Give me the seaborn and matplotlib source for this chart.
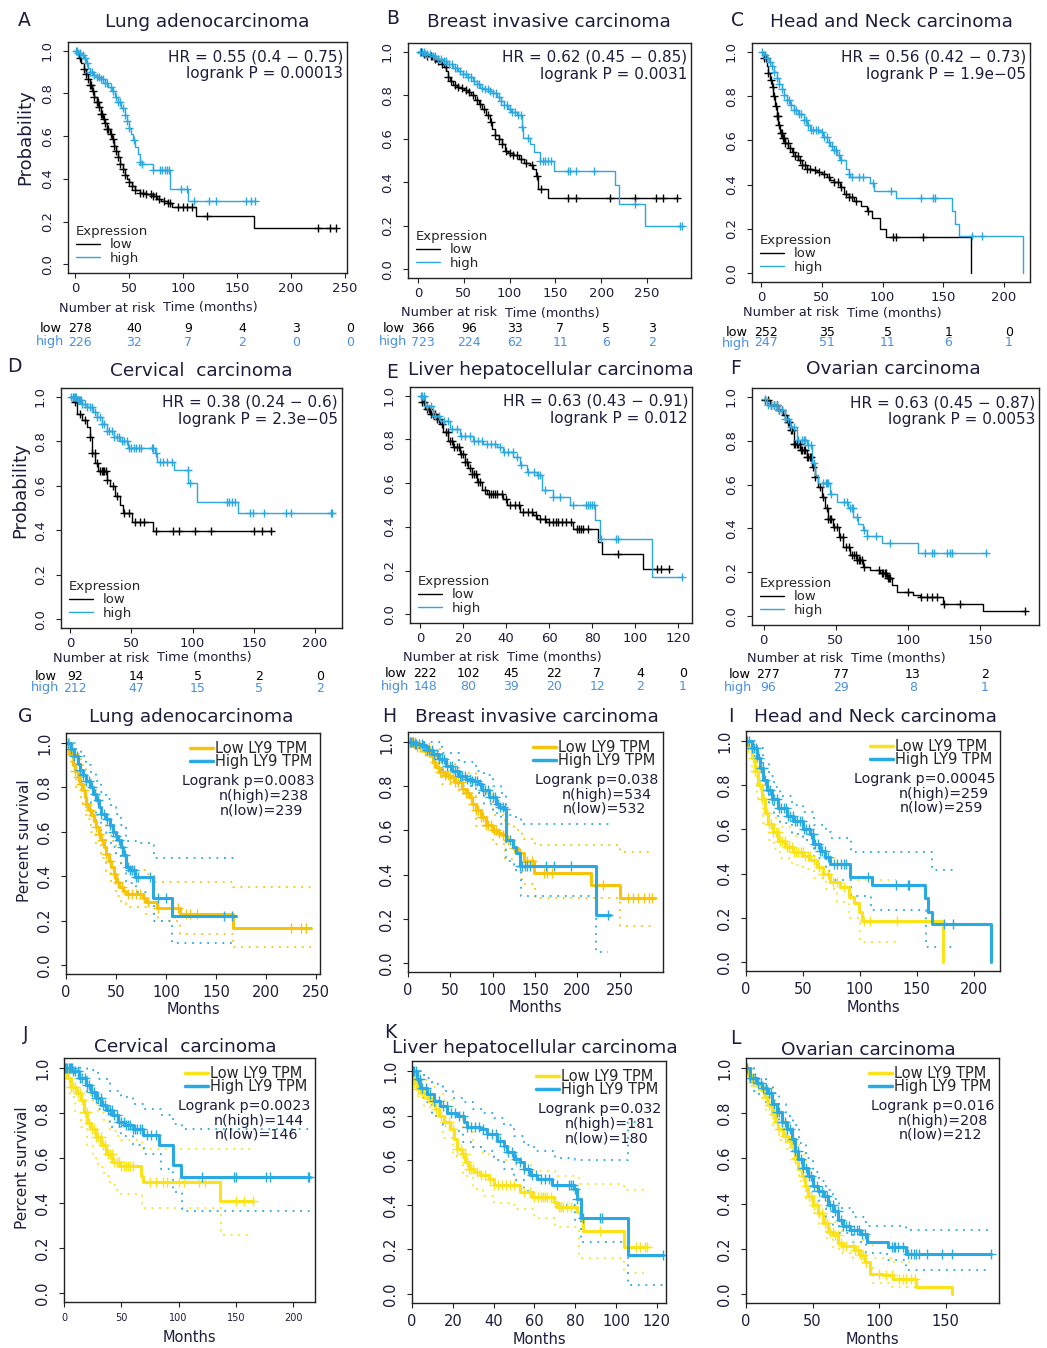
import numpy as np
import pandas as pd
import matplotlib
matplotlib.use("Agg")
import matplotlib.pyplot as plt
import seaborn as sns
from matplotlib.lines import Line2D

# ---------------- KM plotter panels A-F: (months, survival) step points ----------------
A_LOW = [(0, 1.0), (2, 0.985), (4, 0.965), (6, 0.94), (8, 0.915), (10, 0.89), (12, 0.865), (14, 0.84),
         (16, 0.81), (18, 0.785), (20, 0.76), (22, 0.735), (24, 0.705), (26, 0.68), (28, 0.66), (30, 0.635),
         (32, 0.61), (34, 0.585), (36, 0.555), (38, 0.53), (40, 0.5), (42, 0.47), (44, 0.445), (46, 0.42),
         (48, 0.4), (50, 0.385), (53, 0.365), (56, 0.35), (60, 0.335), (66, 0.33), (72, 0.322), (76, 0.305),
         (80, 0.295), (86, 0.285), (90, 0.268), (112, 0.228), (165.6, 0.171), (242, 0.171)]
A_HIGH = [(0, 1.0), (3, 0.99), (6, 0.98), (8, 0.965), (10, 0.94), (12, 0.92), (14, 0.9), (17, 0.885),
          (20, 0.875), (24, 0.865), (28, 0.85), (31, 0.83), (34, 0.81), (37, 0.785), (40, 0.76), (43, 0.73),
          (46, 0.7), (48, 0.67), (50, 0.64), (52, 0.61), (54, 0.58), (56, 0.55), (58, 0.515), (60, 0.48),
          (62, 0.47), (72, 0.44), (88, 0.352), (105, 0.297), (167, 0.297)]
A_LOW_CENS = [5, 8, 10, 12, 14, 15, 17, 18, 20, 21, 22, 24, 25, 27, 28, 30, 31, 33, 35, 36, 38, 40, 42, 44,
              46, 50, 53, 56, 60, 63, 66, 70, 72, 75, 78, 82, 86, 88, 95, 100, 104, 108, 122, 225, 236, 242]
A_HIGH_CENS = [1, 2, 3, 5, 7, 9, 11, 14, 16, 18, 20, 22, 24, 26, 28, 30, 33, 35, 38, 40, 42, 44, 46, 48, 50,
               55, 60, 62, 72, 79, 81, 83, 85, 87, 98, 104, 110, 124, 131, 158, 163, 167]
A_TICKS = [0, 50, 100, 150, 200, 250]
A_RISK_LOW = [278, 40, 9, 4, 3, 0]
A_RISK_HIGH = [226, 32, 7, 2, 0, 0]
A_STATS = "HR = 0.55 (0.4 \u2212 0.75)\nlogrank P = 0.00013"

B_LOW = [(0, 1.0), (5, 0.99), (10, 0.978), (15, 0.968), (20, 0.958), (25, 0.945), (28, 0.93), (31, 0.91),
         (33, 0.885), (35, 0.865), (38, 0.845), (42, 0.838), (46, 0.832), (50, 0.826), (54, 0.815), (58, 0.8),
         (62, 0.78), (66, 0.76), (70, 0.735), (74, 0.71), (78, 0.675), (81, 0.645), (84, 0.615), (88, 0.6),
         (92, 0.575), (95, 0.545), (98, 0.535), (104, 0.525), (110, 0.508), (116, 0.49), (122, 0.478),
         (126, 0.46), (129, 0.43), (131, 0.37), (142, 0.328), (283, 0.328)]
B_HIGH = [(0, 1.0), (8, 0.99), (16, 0.98), (22, 0.968), (27, 0.957), (32, 0.945), (38, 0.927), (44, 0.91),
          (49, 0.896), (54, 0.882), (60, 0.866), (64, 0.85), (68, 0.835), (72, 0.828), (78, 0.82), (82, 0.808),
          (86, 0.79), (90, 0.775), (94, 0.757), (98, 0.738), (102, 0.725), (108, 0.71), (113, 0.652),
          (115, 0.604), (122, 0.576), (127, 0.54), (133, 0.5), (148, 0.454), (215, 0.386), (219, 0.302),
          (248, 0.198), (288, 0.198)]
B_LOW_CENS = [3, 6, 10, 14, 18, 22, 26, 30, 33, 36, 40, 44, 48, 52, 56, 60, 64, 68, 72, 76, 80, 84, 88, 92,
              96, 100, 104, 108, 112, 118, 124, 130, 134, 164, 172, 210, 237, 260, 267, 283]
B_HIGH_CENS = [2, 4, 6, 8, 10, 13, 16, 19, 22, 25, 28, 31, 34, 37, 40, 43, 46, 49, 52, 55, 58, 61, 64, 67,
               70, 73, 76, 79, 82, 85, 88, 91, 94, 97, 100, 103, 106, 109, 112, 114, 120, 133, 136, 139, 142,
               145, 164, 166, 172, 192, 237, 286, 288]
B_TICKS = [0, 50, 100, 150, 200, 250]
B_RISK_LOW = [366, 96, 33, 7, 5, 3]
B_RISK_HIGH = [723, 224, 62, 11, 6, 2]
B_STATS = "HR = 0.62 (0.45 \u2212 0.85)\nlogrank P = 0.0031"

C_LOW = [(0, 1.0), (2, 0.974), (4.7, 0.936), (6, 0.905), (7.4, 0.875), (9, 0.84), (10.2, 0.8), (11.5, 0.755),
         (12.9, 0.708), (14.3, 0.67), (15.7, 0.632), (17.5, 0.61), (19.8, 0.586), (22.5, 0.565), (25.3, 0.548),
         (28, 0.53), (30.8, 0.51), (34, 0.49), (37.7, 0.472), (42, 0.465), (46, 0.457), (50, 0.447),
         (54.2, 0.434), (57, 0.423), (59.7, 0.411), (65.2, 0.388), (68, 0.358), (72, 0.342), (76.2, 0.327),
         (82, 0.305), (87.2, 0.282), (91.3, 0.251), (98.2, 0.198), (103, 0.164), (173, 0.0)]
C_HIGH = [(0, 1.0), (2.5, 0.985), (4.7, 0.974), (6.8, 0.955), (8.8, 0.936), (11, 0.91), (12.9, 0.883),
          (15, 0.855), (17, 0.83), (19, 0.806), (21, 0.784), (24, 0.76), (26.7, 0.738), (30, 0.72), (35, 0.692),
          (38, 0.67), (40.4, 0.647), (48.7, 0.64), (51, 0.617), (54.2, 0.594), (57, 0.575), (59.7, 0.556),
          (62.5, 0.533), (65.2, 0.51), (70, 0.47), (72, 0.449), (73.5, 0.434), (90, 0.406), (92.7, 0.373),
          (111.4, 0.339), (157.4, 0.282), (160, 0.224), (163.4, 0.167), (216, 0.0)]
C_LOW_CENS = [2, 4, 6, 8, 10, 11, 12, 13, 14, 15, 16, 17, 18, 19, 20, 22, 24, 26, 28, 30, 32, 34, 36, 38, 40,
              44, 48, 52, 56, 60, 63, 66, 70, 72, 75, 78, 88, 109, 111, 133]
C_HIGH_CENS = [1, 3, 5, 7, 9, 11, 13, 15, 17, 19, 21, 23, 25, 27, 29, 31, 33, 35, 37, 39, 41, 43, 45, 47, 50,
               52, 54, 56, 58, 60, 62, 64, 66, 72, 75, 81, 84, 92, 107, 132, 142, 143, 174, 182]
C_TICKS = [0, 50, 100, 150, 200]
C_RISK_LOW = [252, 35, 5, 1, 0]
C_RISK_HIGH = [247, 51, 11, 6, 1]
C_STATS = "HR = 0.56 (0.42 \u2212 0.73)\nlogrank P = 1.9e\u221205"

D_LOW = [(0, 1.0), (2.7, 0.977), (5.4, 0.924), (9.5, 0.894), (13.6, 0.863), (15.8, 0.818), (17.7, 0.749),
         (20.4, 0.704), (23, 0.666), (30, 0.628), (32.7, 0.597), (36.7, 0.552), (40.8, 0.514), (43.5, 0.476),
         (50.3, 0.438), (68, 0.397), (164.6, 0.397)]
D_HIGH = [(0, 1.0), (5.4, 0.985), (10, 0.97), (13.6, 0.954), (19, 0.932), (21.8, 0.909), (25.9, 0.878),
          (30, 0.848), (35.4, 0.818), (40.8, 0.802), (47.6, 0.772), (69.4, 0.749), (70.7, 0.708),
          (84.4, 0.673), (96.6, 0.612), (103.4, 0.529), (137.4, 0.479), (214.4, 0.479)]
D_LOW_CENS = [4, 8, 12, 16, 18, 20, 22, 24, 26, 27, 28, 29, 30, 35, 38, 44, 48, 53, 57, 60, 70, 84, 89, 102,
              115, 150, 157, 164]
D_HIGH_CENS = [1, 2, 3, 4, 5, 6, 7, 8, 9, 10, 12, 14, 16, 18, 20, 22, 24, 26, 28, 30, 32, 34, 36, 38, 40, 42,
               44, 46, 48, 50, 52, 54, 56, 58, 67, 68, 70, 73, 76, 79, 83, 96, 98, 128, 130, 132, 135, 147,
               149, 158, 176, 180, 213, 214]
D_TICKS = [0, 50, 100, 150, 200]
D_RISK_LOW = [92, 14, 5, 2, 0]
D_RISK_HIGH = [212, 47, 15, 5, 2]
D_STATS = "HR = 0.38 (0.24 \u2212 0.6)\nlogrank P = 2.3e\u221205"

E_LOW = [(0, 1.0), (0.8, 0.97), (2.3, 0.939), (4.6, 0.916), (7.7, 0.894), (9.3, 0.871), (10.8, 0.833),
         (13.2, 0.795), (15.5, 0.764), (18.6, 0.734), (20.9, 0.696), (22.5, 0.67), (24, 0.643), (26.3, 0.605),
         (28.6, 0.567), (31, 0.552), (38.7, 0.529), (40.3, 0.498), (46.5, 0.468), (52.6, 0.453),
         (54.2, 0.438), (58.8, 0.422), (71.2, 0.392), (82.8, 0.331), (84.4, 0.274), (103.7, 0.205),
         (116, 0.205)]
E_HIGH = [(0, 1.0), (2.3, 0.954), (6.2, 0.909), (9.3, 0.886), (13.9, 0.848), (18.6, 0.818), (24.8, 0.795),
          (29.4, 0.78), (35.6, 0.764), (38.7, 0.742), (43.4, 0.719), (46.5, 0.681), (49.6, 0.65), (54.2, 0.635),
          (56.5, 0.567), (61.9, 0.537), (69.7, 0.498), (81.3, 0.43), (83.6, 0.343), (108, 0.172),
          (122.3, 0.172)]
E_LOW_CENS = [1, 2, 3, 4, 5, 6, 7, 8, 9, 10, 12, 13, 14, 15, 16, 17, 18, 19, 20, 21, 22, 23, 24, 25, 26, 27,
              28, 30, 32, 33, 34, 35, 36, 38, 40, 42, 44, 46, 48, 50, 52, 54, 56, 58, 60, 62, 63, 64, 66, 68,
              70, 73, 74, 75, 76, 78, 92, 110, 112, 116]
E_HIGH_CENS = [0.5, 1, 2, 3, 5, 7, 9, 11, 13, 15, 17, 19, 21, 23, 25, 27, 29, 31, 33, 35, 37, 39, 41, 43, 45,
               47, 50, 53, 55, 56, 58, 62, 65, 71, 77, 78, 79, 80, 81, 84, 91, 92, 122]
E_TICKS = [0, 20, 40, 60, 80, 100, 120]
E_RISK_LOW = [222, 102, 45, 22, 7, 4, 0]
E_RISK_HIGH = [148, 80, 39, 20, 12, 2, 1]
E_STATS = "HR = 0.63 (0.43 \u2212 0.91)\nlogrank P = 0.012"

F_LOW = [(0, 0.985), (4.6, 0.962), (9.2, 0.939), (13.8, 0.916), (16.2, 0.886), (18.5, 0.848), (20.8, 0.787),
         (25.4, 0.757), (30, 0.726), (33.5, 0.681), (35.8, 0.635), (38, 0.59), (40.4, 0.544), (42.7, 0.491),
         (45, 0.445), (48.5, 0.407), (52, 0.362), (55.4, 0.316), (60, 0.278), (64.6, 0.255), (69.2, 0.225),
         (73.8, 0.21), (80.8, 0.195), (85.4, 0.172), (88.8, 0.141), (92.3, 0.111), (103.8, 0.096),
         (108.5, 0.088), (124.6, 0.055), (152.3, 0.024), (181, 0.024)]
F_HIGH = [(0, 0.99), (2.3, 0.962), (9.2, 0.939), (15, 0.9), (18.5, 0.863), (23, 0.802), (30, 0.78),
          (33.5, 0.696), (35.8, 0.643), (38, 0.605), (46.2, 0.559), (50.8, 0.521), (58.8, 0.491),
          (62.3, 0.453), (65.8, 0.422), (69.2, 0.392), (71.5, 0.365), (82, 0.334), (107.3, 0.289),
          (154.6, 0.289)]
F_LOW_CENS = [1, 3, 5, 7, 9, 11, 13, 15, 17, 18, 19, 20, 21, 22, 23, 24, 25, 26, 27, 28, 29, 30, 31, 32, 33,
              34, 36, 39, 41, 44, 45, 46, 47, 49, 51, 53, 55, 57, 59, 61, 63, 64, 65, 66, 67, 68, 70, 80, 82,
              83, 84, 85, 86, 87, 88, 100, 109, 113, 117, 120, 125, 136, 181]
F_HIGH_CENS = [1, 3, 5, 7, 9, 11, 13, 15, 17, 19, 21, 24, 27, 28, 29, 31, 33, 35, 41, 43, 44, 45, 47, 56, 58,
               60, 61, 62, 65, 70, 72, 78, 88, 112, 117, 118, 127, 129, 131, 154]
F_TICKS = [0, 50, 100, 150]
F_RISK_LOW = [277, 77, 13, 2]
F_RISK_HIGH = [96, 29, 8, 1]
F_STATS = "HR = 0.63 (0.45 \u2212 0.87)\nlogrank P = 0.0053"

# ---------------- GEPIA panels G-L ----------------
G_LOW = [(0, 1.0), (3.4, 0.952), (6.7, 0.9), (9, 0.875), (11.7, 0.847), (14, 0.815), (16.8, 0.787),
         (18.5, 0.755), (20, 0.727), (22.5, 0.7), (25, 0.675), (27.5, 0.65), (30, 0.622), (32.5, 0.59),
         (35, 0.562), (37.5, 0.53), (40, 0.502), (42.5, 0.47), (45, 0.442), (47.5, 0.41), (50, 0.375),
         (53, 0.35), (57, 0.334), (60, 0.322), (77, 0.3), (80, 0.285), (90.6, 0.255), (114, 0.232),
         (166.8, 0.168), (245, 0.168)]
G_HIGH = [(0, 1.0), (5, 0.975), (8, 0.94), (11.7, 0.907), (14, 0.88), (16.8, 0.855), (20, 0.83),
          (23.5, 0.802), (27, 0.77), (30, 0.742), (32.5, 0.71), (35, 0.682), (40, 0.66), (43.5, 0.63), (47, 0.6),
          (50, 0.58), (52, 0.562), (55, 0.53), (57, 0.495), (60, 0.442), (64, 0.427), (68.8, 0.397), (87, 0.3),
          (105.7, 0.22), (169.5, 0.22)]
G_LOW_UP = [(0, 1.0), (5, 0.99), (10, 0.95), (15, 0.9), (20, 0.85), (25, 0.79), (30, 0.73), (35, 0.68),
            (40, 0.62), (45, 0.56), (50, 0.5), (55, 0.46), (60, 0.43), (80, 0.41), (88, 0.375), (167, 0.35),
            (245, 0.35)]
G_LOW_LO = [(0, 1.0), (5, 0.9), (10, 0.8), (15, 0.73), (20, 0.66), (25, 0.6), (30, 0.54), (35, 0.48),
            (40, 0.42), (45, 0.37), (50, 0.31), (55, 0.28), (60, 0.26), (80, 0.23), (92, 0.2), (114, 0.14),
            (167, 0.08), (245, 0.08)]
G_HIGH_UP = [(0, 1.0), (10, 0.97), (15, 0.94), (20, 0.9), (25, 0.87), (30, 0.83), (35, 0.78), (40, 0.75),
             (45, 0.71), (50, 0.68), (55, 0.63), (60, 0.56), (70, 0.55), (88, 0.48), (170, 0.48)]
G_HIGH_LO = [(0, 1.0), (5, 0.93), (10, 0.86), (15, 0.8), (20, 0.75), (25, 0.7), (30, 0.65), (35, 0.6),
             (40, 0.56), (45, 0.53), (50, 0.49), (55, 0.45), (60, 0.37), (70, 0.33), (88, 0.2), (106, 0.1),
             (170, 0.1)]
G_LOW_CENS = [3, 6, 9, 12, 15, 18, 21, 24, 27, 30, 33, 36, 40, 44, 48, 52, 56, 62, 66, 70, 74, 78, 82, 92,
              112, 120, 124, 131, 225, 235, 240]
G_HIGH_CENS = [2, 5, 8, 11, 14, 17, 20, 23, 26, 29, 32, 35, 38, 41, 44, 47, 50, 53, 56, 59, 62, 64, 66, 68,
               70, 72, 84, 92, 100, 158, 166]
G_TICKS = [0, 50, 100, 150, 200, 250]
G_STATS = ["Logrank p=0.0083", "n(high)=238", "n(low)=239"]

H_LOW = [(0, 1.0), (8.7, 0.975), (18.6, 0.96), (26.5, 0.937), (30, 0.91), (32.4, 0.885), (36.4, 0.863),
         (42, 0.852), (48.3, 0.84), (56, 0.818), (64, 0.788), (68, 0.77), (72, 0.751), (76, 0.72), (80, 0.691),
         (85.8, 0.661), (91.8, 0.624), (99.7, 0.6), (106, 0.59), (111.5, 0.579), (115.5, 0.555),
         (123.4, 0.519), (129.3, 0.497), (137.3, 0.46), (149, 0.407), (216.4, 0.352), (250, 0.293),
         (291.5, 0.293)]
H_HIGH = [(0, 1.0), (8, 0.99), (16.6, 0.982), (22, 0.965), (28.5, 0.945), (36.4, 0.922), (44.3, 0.893),
          (52.2, 0.87), (60, 0.848), (68, 0.833), (76, 0.822), (83.9, 0.81), (87.8, 0.781), (95.7, 0.751),
          (103.6, 0.721), (108, 0.705), (113.5, 0.699), (115.5, 0.557), (123.4, 0.527), (127.4, 0.497),
          (132, 0.437), (222.3, 0.216), (238, 0.216)]
H_LOW_UP = [(0, 1.0), (20, 0.99), (30, 0.97), (40, 0.9), (60, 0.86), (80, 0.77), (100, 0.67), (115, 0.63),
            (125, 0.6), (135, 0.56), (150, 0.534), (250, 0.504), (290, 0.504)]
H_LOW_LO = [(0, 1.0), (20, 0.94), (30, 0.89), (40, 0.81), (60, 0.77), (80, 0.62), (100, 0.54), (115, 0.47),
            (125, 0.42), (135, 0.36), (150, 0.296), (216, 0.296), (250, 0.169), (290, 0.169)]
H_HIGH_UP = [(0, 1.0), (40, 0.95), (60, 0.91), (80, 0.87), (90, 0.85), (100, 0.8), (110, 0.77), (116, 0.67),
             (125, 0.66), (133, 0.631), (240, 0.631)]
H_HIGH_LO = [(0, 1.0), (20, 0.96), (40, 0.86), (60, 0.8), (80, 0.77), (90, 0.72), (100, 0.68), (110, 0.63),
             (116, 0.46), (125, 0.42), (133, 0.303), (222, 0.05), (236, 0.05)]
H_LOW_CENS = [2, 5, 8, 11, 14, 17, 20, 23, 26, 29, 32, 35, 38, 41, 44, 47, 50, 53, 56, 59, 62, 65, 68, 71, 74,
              77, 80, 83, 86, 89, 92, 95, 98, 101, 104, 108, 112, 118, 125, 132, 140, 146, 160, 164, 170, 230,
              260, 266, 272, 279, 285, 288]
H_HIGH_CENS = [2, 4, 6, 8, 10, 13, 16, 19, 22, 25, 28, 31, 34, 37, 40, 43, 46, 49, 52, 55, 58, 61, 64, 67,
               70, 73, 76, 79, 82, 85, 88, 91, 94, 97, 100, 103, 106, 109, 112, 115, 120, 132, 135, 138, 141,
               144, 163, 172, 192, 236]
H_TICKS = [0, 50, 100, 150, 200, 250]
H_STATS = ["Logrank p=0.038", "n(high)=534", "n(low)=532"]

I_LOW = [(0, 1.0), (2, 0.967), (5, 0.922), (8, 0.863), (10.9, 0.803), (13.8, 0.736), (16.7, 0.676),
         (19.6, 0.624), (24, 0.587), (28.4, 0.549), (34.3, 0.519), (41.6, 0.497), (50.4, 0.482), (56.3, 0.46),
         (62.2, 0.43), (68, 0.4), (73.9, 0.363), (82.7, 0.34), (90, 0.296), (94.4, 0.266), (98.8, 0.228),
         (101.8, 0.184), (173, 0.0)]
I_HIGH = [(0, 1.0), (5, 0.967), (9.4, 0.922), (12.3, 0.878), (15.2, 0.825), (18.2, 0.78), (22.6, 0.736),
          (28.4, 0.699), (35.8, 0.661), (41.6, 0.639), (50.4, 0.601), (56.3, 0.579), (59.2, 0.534), (65, 0.504),
          (69.5, 0.475), (73.9, 0.445), (91.5, 0.385), (110.6, 0.348), (157.5, 0.288), (159.5, 0.228),
          (163.3, 0.173), (214.7, 0.0)]
I_LOW_UP = [(0, 1.0), (5, 0.97), (10, 0.88), (15, 0.79), (20, 0.71), (25, 0.65), (30, 0.61), (40, 0.57),
            (50, 0.55), (60, 0.51), (70, 0.47), (80, 0.44), (92, 0.37), (132, 0.37)]
I_LOW_LO = [(0, 1.0), (5, 0.86), (10, 0.74), (15, 0.63), (20, 0.55), (25, 0.51), (30, 0.47), (40, 0.44),
            (50, 0.42), (60, 0.38), (70, 0.33), (80, 0.27), (90, 0.2), (100, 0.09), (132, 0.09)]
I_HIGH_UP = [(0, 1.0), (10, 0.97), (15, 0.9), (20, 0.84), (25, 0.79), (30, 0.75), (40, 0.71), (50, 0.68),
             (60, 0.62), (70, 0.59), (75, 0.56), (92, 0.5), (157, 0.5), (163, 0.415), (183, 0.415)]
I_HIGH_LO = [(0, 1.0), (5, 0.93), (10, 0.86), (15, 0.76), (20, 0.71), (25, 0.66), (30, 0.63), (40, 0.58),
             (50, 0.55), (60, 0.47), (70, 0.41), (75, 0.37), (92, 0.3), (110, 0.236), (158, 0.07), (183, 0.07)]
I_LOW_CENS = [2, 4, 6, 8, 10, 12, 14, 16, 18, 20, 22, 24, 26, 28, 30, 32, 34, 36, 38, 40, 42, 44, 46, 48, 50,
              52, 54, 56, 60, 64, 68, 72, 76, 80, 86, 104, 109, 133]
I_HIGH_CENS = [1, 3, 5, 7, 9, 11, 13, 15, 17, 19, 21, 23, 25, 27, 29, 31, 33, 35, 37, 39, 41, 43, 45, 47, 49,
               51, 53, 55, 57, 59, 61, 63, 65, 67, 69, 72, 77, 80, 83, 86, 88, 107, 132, 142, 143, 174, 182]
I_TICKS = [0, 50, 100, 150, 200]
I_STATS = ["Logrank p=0.00045", "n(high)=259", "n(low)=259"]

J_LOW = [(0, 1.0), (2.9, 0.955), (5.8, 0.918), (10.2, 0.888), (14.6, 0.858), (17.5, 0.806), (20.4, 0.754),
         (23.4, 0.731), (27.7, 0.694), (32.1, 0.657), (36.5, 0.619), (42.3, 0.582), (48.2, 0.564),
         (67.2, 0.522), (68.6, 0.493), (135.8, 0.41), (165, 0.41)]
J_HIGH = [(0, 1.0), (7.3, 0.985), (13, 0.955), (19, 0.925), (23.4, 0.896), (27.7, 0.866), (32.1, 0.836),
          (36.5, 0.813), (42.3, 0.791), (46.7, 0.761), (52.6, 0.746), (59.9, 0.731), (68.6, 0.701),
          (83.2, 0.657), (94.9, 0.567), (102.2, 0.515), (214.6, 0.515)]
J_LOW_UP = [(0, 1.0), (10, 0.97), (15, 0.93), (20, 0.88), (25, 0.84), (30, 0.8), (35, 0.76), (40, 0.72),
            (45, 0.7), (50, 0.68), (68, 0.64), (165, 0.64)]
J_LOW_LO = [(0, 1.0), (5, 0.87), (10, 0.8), (15, 0.74), (20, 0.66), (25, 0.6), (30, 0.56), (35, 0.52),
            (40, 0.48), (45, 0.46), (50, 0.44), (68, 0.38), (137, 0.26), (165, 0.26)]
J_HIGH_UP = [(0, 1.0), (20, 0.99), (30, 0.95), (40, 0.9), (50, 0.87), (60, 0.84), (70, 0.82), (85, 0.79),
             (95, 0.75), (103, 0.73), (215, 0.73)]
J_HIGH_LO = [(0, 1.0), (10, 0.96), (20, 0.89), (30, 0.82), (40, 0.74), (50, 0.7), (60, 0.66), (70, 0.62),
             (85, 0.55), (95, 0.45), (103, 0.366), (215, 0.366)]
J_LOW_CENS = [2, 4, 6, 8, 10, 12, 14, 16, 18, 20, 22, 24, 26, 28, 30, 32, 34, 36, 38, 40, 42, 44, 46, 48, 50,
              52, 54, 56, 58, 60, 75, 80, 86, 90, 100, 105, 118, 123, 150, 157, 165]
J_HIGH_CENS = [1, 2, 3, 4, 5, 6, 7, 8, 10, 12, 14, 16, 18, 20, 22, 24, 26, 28, 30, 32, 34, 36, 38, 40, 42, 44,
               46, 48, 50, 52, 54, 56, 58, 60, 62, 64, 66, 68, 72, 76, 80, 120, 148, 150, 176, 180, 213, 214]
J_TICKS = [0, 50, 100, 150, 200]
J_STATS = ["Logrank p=0.0023", "n(high)=144", "n(low)=146"]

K_LOW = [(0, 1.0), (0.8, 0.948), (2.4, 0.918), (4.9, 0.903), (7.3, 0.881), (9.8, 0.866), (11.4, 0.829),
         (13, 0.799), (15.5, 0.77), (18.8, 0.74), (20.4, 0.695), (22, 0.651), (24.5, 0.629), (26.1, 0.591),
         (27.8, 0.562), (30.2, 0.547), (33.5, 0.532), (37.6, 0.517), (40, 0.49), (53, 0.458), (58.8, 0.435),
         (69.4, 0.413), (71, 0.391), (80.8, 0.368), (82.4, 0.339), (84, 0.282), (104, 0.212), (115, 0.212)]
K_HIGH = [(0, 1.0), (2.4, 0.963), (4.1, 0.926), (7.3, 0.896), (10.6, 0.866), (13.9, 0.844), (17.1, 0.814),
          (22, 0.799), (25.3, 0.77), (26.9, 0.747), (33.5, 0.74), (36.7, 0.717), (41.6, 0.688), (44.9, 0.666),
          (46.5, 0.636), (49.8, 0.606), (53, 0.591), (54.7, 0.562), (58, 0.532), (61.2, 0.517), (68.6, 0.487),
          (79.2, 0.473), (80.8, 0.428), (83, 0.342), (106, 0.175), (123, 0.175)]
K_LOW_UP = [(0, 1.0), (6, 0.96), (10, 0.93), (15, 0.87), (20, 0.8), (25, 0.74), (30, 0.66), (35, 0.63),
            (40, 0.6), (50, 0.58), (60, 0.55), (70, 0.53), (82, 0.495), (104, 0.465), (115, 0.465)]
K_LOW_LO = [(0, 1.0), (3, 0.88), (6, 0.84), (10, 0.8), (15, 0.7), (20, 0.62), (25, 0.53), (30, 0.47),
            (35, 0.44), (40, 0.41), (50, 0.38), (60, 0.34), (70, 0.3), (82, 0.16), (104, 0.094), (115, 0.094)]
K_HIGH_UP = [(0, 1.0), (6, 0.97), (10, 0.94), (15, 0.91), (20, 0.88), (25, 0.86), (30, 0.83), (35, 0.81),
             (40, 0.79), (45, 0.76), (50, 0.71), (55, 0.67), (60, 0.64), (70, 0.61), (80, 0.6), (106, 0.77),
             (110, 0.77)]
K_HIGH_LO = [(0, 1.0), (3, 0.92), (6, 0.86), (10, 0.8), (15, 0.76), (20, 0.73), (25, 0.68), (30, 0.66),
             (35, 0.64), (40, 0.6), (45, 0.56), (50, 0.51), (55, 0.46), (60, 0.43), (70, 0.4), (80, 0.33),
             (83, 0.235), (106, 0.04), (123, 0.04)]
K_LOW_CENS = [1, 2, 3, 4, 5, 6, 7, 8, 9, 10, 12, 14, 16, 18, 20, 22, 24, 25, 26, 27, 28, 29, 30, 32, 34, 36,
              38, 40, 42, 44, 46, 48, 50, 55, 58, 60, 62, 63, 64, 65, 66, 68, 70, 72, 73, 74, 76, 78, 92, 110,
              112, 114, 115]
K_HIGH_CENS = [0.5, 1, 2, 3, 4, 5, 7, 9, 11, 13, 15, 17, 19, 21, 23, 25, 27, 29, 31, 33, 35, 37, 39, 41, 43,
               45, 47, 49, 51, 53, 55, 57, 59, 61, 63, 65, 67, 71, 77, 78, 79, 80, 81, 84, 92, 93, 123]
K_TICKS = [0, 20, 40, 60, 80, 100, 120]
K_STATS = ["Logrank p=0.032", "n(high)=181", "n(low)=180"]

L_LOW = [(0, 1.0), (1.8, 0.97), (4.3, 0.94), (8, 0.925), (11.8, 0.903), (14.3, 0.873), (16.8, 0.836),
         (19.3, 0.799), (21.8, 0.761), (24.3, 0.731), (28, 0.701), (31.8, 0.679), (34.3, 0.649), (36.8, 0.597),
         (39.3, 0.552), (41.8, 0.522), (44.3, 0.478), (46.8, 0.433), (50.5, 0.396), (54.3, 0.358), (58, 0.313),
         (61.8, 0.276), (65.5, 0.261), (69.3, 0.224), (73, 0.212), (81.8, 0.194), (85.5, 0.172),
         (89.3, 0.142), (93, 0.09), (103, 0.082), (110.5, 0.067), (128, 0.03), (155, 0.0)]
L_HIGH = [(0, 1.0), (3, 0.955), (8, 0.933), (11.8, 0.91), (15.5, 0.888), (19.3, 0.843), (23, 0.806),
          (26.8, 0.761), (30.5, 0.731), (34.3, 0.687), (36.8, 0.634), (39.3, 0.597), (43, 0.56), (46.8, 0.522),
          (50.5, 0.478), (54.3, 0.455), (58, 0.433), (61.8, 0.396), (65.5, 0.366), (69.3, 0.328), (73, 0.299),
          (78, 0.284), (85.5, 0.266), (90.5, 0.231), (106.8, 0.209), (120.5, 0.179), (184, 0.179)]
L_LOW_UP = [(0, 1.0), (6, 0.97), (10, 0.95), (15, 0.91), (20, 0.86), (25, 0.79), (30, 0.74), (35, 0.7),
            (40, 0.62), (45, 0.54), (50, 0.47), (55, 0.43), (60, 0.37), (65, 0.32), (70, 0.28), (80, 0.26),
            (88, 0.22), (95, 0.16), (110, 0.142), (127, 0.142)]
L_LOW_LO = [(0, 1.0), (3, 0.92), (6, 0.9), (10, 0.87), (15, 0.81), (20, 0.74), (25, 0.68), (30, 0.64),
            (35, 0.58), (40, 0.5), (45, 0.42), (50, 0.36), (55, 0.31), (60, 0.25), (65, 0.21), (70, 0.18),
            (80, 0.16), (88, 0.12), (95, 0.05), (110, 0.03), (127, 0.02)]
L_HIGH_UP = [(0, 1.0), (6, 0.97), (10, 0.95), (15, 0.92), (20, 0.89), (25, 0.84), (30, 0.79), (35, 0.75),
             (40, 0.67), (45, 0.6), (50, 0.54), (55, 0.5), (60, 0.46), (65, 0.42), (70, 0.38), (80, 0.34),
             (90, 0.3), (106, 0.3), (120, 0.284), (184, 0.284)]
L_HIGH_LO = [(0, 1.0), (3, 0.93), (6, 0.9), (10, 0.88), (15, 0.85), (20, 0.79), (25, 0.73), (30, 0.68),
             (35, 0.62), (40, 0.54), (45, 0.48), (50, 0.42), (55, 0.38), (60, 0.34), (65, 0.3), (70, 0.27),
             (80, 0.23), (90, 0.18), (106, 0.15), (120, 0.104), (184, 0.104)]
L_LOW_CENS = [1, 3, 5, 7, 9, 11, 13, 15, 17, 19, 21, 23, 25, 27, 29, 31, 33, 35, 37, 39, 41, 43, 45, 47, 49,
              51, 53, 55, 57, 59, 61, 63, 65, 67, 69, 71, 73, 75, 80, 82, 84, 86, 88, 90, 100, 105, 110, 115,
              118, 120, 124, 127]
L_HIGH_CENS = [1, 3, 5, 7, 9, 11, 13, 15, 17, 19, 21, 23, 25, 27, 29, 31, 33, 35, 37, 39, 41, 43, 45, 47, 49,
               51, 53, 55, 57, 59, 61, 63, 65, 67, 69, 71, 73, 75, 77, 79, 81, 83, 85, 87, 89, 110, 111, 112,
               114, 118, 122, 124, 126, 128, 130, 136, 147, 155, 184]
L_TICKS = [0, 50, 100, 150]
L_STATS = ["Logrank p=0.016", "n(high)=208", "n(low)=212"]

Y_TICKS = [0.0, 0.2, 0.4, 0.6, 0.8, 1.0]

# ---------------- styling ----------------
W, H = 1047, 1348
KM_BLUE = "#2ba8df"
RISK_BLUE = "#4a90e2"
GEP_BLUE = "#29aae2"
GOLD = "#f7c40d"
YELLOW = "#fbe31b"
INK = "#1d1d3d"

sns.set_theme(style="ticks")
plt.rcParams["font.family"] = ["DejaVu Sans"]
plt.rcParams["axes.unicode_minus"] = True

fig = plt.figure(figsize=(W / 100, H / 100), dpi=100)
fig.patch.set_facecolor("white")


def box_axes(l, t, r, b):
    return fig.add_axes([l / W, 1 - b / H, (r - l) / W, (b - t) / H])


def fig_text(x, y, s, **kw):
    fig.text(x / W, 1 - y / H, s, color=INK, **kw)


def surv_at(pts, times):
    t = np.array([p[0] for p in pts], dtype=float)
    s = np.array([p[1] for p in pts], dtype=float)
    idx = np.searchsorted(t, np.asarray(times, dtype=float), side="right") - 1
    return s[np.clip(idx, 0, len(s) - 1)]


def step_line(ax, pts, color, lw, ls="-"):
    df = pd.DataFrame(pts, columns=["t", "s"])
    sns.lineplot(data=df, x="t", y="s", ax=ax, color=color, linewidth=lw, linestyle=ls,
                 drawstyle="steps-post", estimator=None, sort=False, errorbar=None, legend=False)


def draw_curve(ax, pts, cens, color, lw, ms):
    step_line(ax, pts, color, lw)
    ax.plot(cens, surv_at(pts, cens), ls="none", marker="+", ms=ms, mew=1.0, color=color)


def style_axes(ax, xlim, ylim, ticks, xfs, yfs, xpad):
    ax.set_xlim(*xlim)
    ax.set_ylim(*ylim)
    ax.set_xticks(ticks)
    ax.set_xticklabels([str(v) for v in ticks], fontsize=xfs)
    ax.set_yticks(Y_TICKS)
    ax.set_yticklabels([f"{v:.1f}" for v in Y_TICKS], rotation=90, va="center", fontsize=yfs)
    ax.set_xlabel("")
    ax.set_ylabel("")
    ax.set_facecolor("white")
    for sp in ax.spines.values():
        sp.set_visible(True)
        sp.set_color("#222222")
        sp.set_linewidth(1.0)
    ax.tick_params(direction="out", length=3.6, width=0.8, color="#222222", labelcolor=INK)
    ax.tick_params(axis="x", pad=xpad)
    ax.tick_params(axis="y", pad=6.5)


KM_PANELS = [
    dict(letter="A", letter_xy=(24, 20), title="Lung adenocarcinoma", title_xy=(207, 22),
         box=(68, 42, 347, 273), xlim=(-6.5, 252), ticks=A_TICKS, low=A_LOW, high=A_HIGH,
         low_c=A_LOW_CENS, high_c=A_HIGH_CENS, risk_low=A_RISK_LOW, risk_high=A_RISK_HIGH,
         stats=A_STATS, risk_dy=(35, 55, 69), ylabel_xy=(25, 137)),
    dict(letter="B", letter_xy=(393, 19), title="Breast invasive carcinoma", title_xy=(549, 22),
         box=(408, 43, 691, 278), xlim=(-11, 298), ticks=B_TICKS, low=B_LOW, high=B_HIGH,
         low_c=B_LOW_CENS, high_c=B_HIGH_CENS, risk_low=B_RISK_LOW, risk_high=B_RISK_HIGH,
         stats=B_STATS, risk_dy=(35, 50, 64), ylabel_xy=None),
    dict(letter="C", letter_xy=(737, 20), title="Head and Neck carcinoma", title_xy=(891, 22),
         box=(752, 43, 1030, 282), xlim=(-7.5, 221.5), ticks=C_TICKS, low=C_LOW, high=C_HIGH,
         low_c=C_LOW_CENS, high_c=C_HIGH_CENS, risk_low=C_RISK_LOW, risk_high=C_RISK_HIGH,
         stats=C_STATS, risk_dy=(31, 50, 61), ylabel_xy=None),
    dict(letter="D", letter_xy=(14, 366), title="Cervical  carcinoma", title_xy=(201, 371),
         box=(61, 388, 342, 628), xlim=(-7.5, 222), ticks=D_TICKS, low=D_LOW, high=D_HIGH,
         low_c=D_LOW_CENS, high_c=D_HIGH_CENS, risk_low=D_RISK_LOW, risk_high=D_RISK_HIGH,
         stats=D_STATS, risk_dy=(30, 48, 60), ylabel_xy=(20, 490)),
    dict(letter="E", letter_xy=(392, 372), title="Liver hepatocellular carcinoma", title_xy=(551, 370),
         box=(410, 387, 692, 623), xlim=(-4.7, 126.5), ticks=E_TICKS, low=E_LOW, high=E_HIGH,
         low_c=E_LOW_CENS, high_c=E_HIGH_CENS, risk_low=E_RISK_LOW, risk_high=E_RISK_HIGH,
         stats=E_STATS, risk_dy=(35, 51, 64), ylabel_xy=None),
    dict(letter="F", letter_xy=(736, 368), title="Ovarian carcinoma", title_xy=(893, 369),
         box=(752, 388, 1039, 625), xlim=(-8, 191), ticks=F_TICKS, low=F_LOW, high=F_HIGH,
         low_c=F_LOW_CENS, high_c=F_HIGH_CENS, risk_low=F_RISK_LOW, risk_high=F_RISK_HIGH,
         stats=F_STATS, risk_dy=(33, 49, 62), ylabel_xy=None),
]

GEP_PANELS = [
    dict(letter="G", letter_xy=(25, 717), title="Lung adenocarcinoma", title_xy=(191, 717),
         box=(66, 733, 320, 974), xlim=(0, 254), ticks=G_TICKS, low=G_LOW, high=G_HIGH,
         low_ci=[G_LOW_UP, G_LOW_LO], high_ci=[G_HIGH_UP, G_HIGH_LO], low_c=G_LOW_CENS, high_c=G_HIGH_CENS,
         stats=G_STATS, yellow=GOLD, ylabel_xy=(25, 841), tick_fs=10.5),
    dict(letter="H", letter_xy=(389, 717), title="Breast invasive carcinoma", title_xy=(537, 717),
         box=(408, 732, 663, 972), xlim=(0, 301), ticks=H_TICKS, low=H_LOW, high=H_HIGH,
         low_ci=[H_LOW_UP, H_LOW_LO], high_ci=[H_HIGH_UP, H_HIGH_LO], low_c=H_LOW_CENS, high_c=H_HIGH_CENS,
         stats=H_STATS, yellow=GOLD, ylabel_xy=None, tick_fs=10.5),
    dict(letter="I", letter_xy=(731, 717), title="Head and Neck carcinoma", title_xy=(875, 717),
         box=(746, 731, 1000, 971), xlim=(0, 223), ticks=I_TICKS, low=I_LOW, high=I_HIGH,
         low_ci=[I_LOW_UP, I_LOW_LO], high_ci=[I_HIGH_UP, I_HIGH_LO], low_c=I_LOW_CENS, high_c=I_HIGH_CENS,
         stats=I_STATS, yellow=YELLOW, ylabel_xy=None, tick_fs=10.5),
    dict(letter="J", letter_xy=(26, 1035), title="Cervical  carcinoma", title_xy=(185, 1047),
         box=(64, 1058, 315, 1302), xlim=(0, 219), ticks=J_TICKS, low=J_LOW, high=J_HIGH,
         low_ci=[J_LOW_UP, J_LOW_LO], high_ci=[J_HIGH_UP, J_HIGH_LO], low_c=J_LOW_CENS, high_c=J_HIGH_CENS,
         stats=J_STATS, yellow=YELLOW, ylabel_xy=(23, 1168), tick_fs=7),
    dict(letter="K", letter_xy=(390, 1032), title="Liver hepatocellular carcinoma", title_xy=(535, 1048),
         box=(412, 1061, 666, 1303), xlim=(0, 124.5), ticks=K_TICKS, low=K_LOW, high=K_HIGH,
         low_ci=[K_LOW_UP, K_LOW_LO], high_ci=[K_HIGH_UP, K_HIGH_LO], low_c=K_LOW_CENS, high_c=K_HIGH_CENS,
         stats=K_STATS, yellow=YELLOW, ylabel_xy=None, tick_fs=10.5),
    dict(letter="L", letter_xy=(735, 1038), title="Ovarian carcinoma", title_xy=(868, 1050),
         box=(746, 1058, 999, 1303), xlim=(0, 190), ticks=L_TICKS, low=L_LOW, high=L_HIGH,
         low_ci=[L_LOW_UP, L_LOW_LO], high_ci=[L_HIGH_UP, L_HIGH_LO], low_c=L_LOW_CENS, high_c=L_HIGH_CENS,
         stats=L_STATS, yellow=YELLOW, ylabel_xy=None, tick_fs=10.5),
]


def km_panel(p):
    ax = box_axes(*p["box"])
    draw_curve(ax, p["low"], p["low_c"], "black", 1.0, 5.5)
    draw_curve(ax, p["high"], p["high_c"], KM_BLUE, 1.0, 5.5)
    style_axes(ax, p["xlim"], (-0.04, 1.04), p["ticks"], 9.5, 9.5, 2.8)

    ax.annotate(p["stats"], (1, 1), xycoords="axes fraction", xytext=(-4, -7), textcoords="offset pixels",
                ha="right", va="top", multialignment="right", fontsize=11, color=INK, linespacing=1.2)

    handles = [Line2D([], [], color="black", lw=1.0), Line2D([], [], color=KM_BLUE, lw=1.0)]
    ax.legend(handles, ["low", "high"], title="Expression", loc="lower left", frameon=False, fontsize=9.5,
              title_fontsize=9.5, alignment="left", handlelength=1.8, handletextpad=0.8, labelspacing=0.05,
              borderaxespad=0.2, borderpad=0.4)

    tr = ax.get_xaxis_transform()
    d_nar, d_low, d_high = p["risk_dy"]
    ax.annotate("Number at risk", (0.5, 0), xycoords="axes fraction", xytext=(-52, -d_nar),
                textcoords="offset pixels", ha="right", va="center", fontsize=9.3, color=INK)
    ax.annotate("Time (months)", (0.5, 0), xycoords="axes fraction", xytext=(3, -d_nar),
                textcoords="offset pixels", ha="center", va="center", fontsize=9.3, color=INK)
    ax.annotate("low", (p["ticks"][0], 0), xycoords=tr, xytext=(-13, -d_low), textcoords="offset pixels",
                ha="right", va="center", fontsize=9.3, color="black")
    ax.annotate("high", (p["ticks"][0], 0), xycoords=tr, xytext=(-11, -d_high), textcoords="offset pixels",
                ha="right", va="center", fontsize=9.3, color=RISK_BLUE)
    for t, lo, hi in zip(p["ticks"], p["risk_low"], p["risk_high"]):
        ax.annotate(str(lo), (t, 0), xycoords=tr, xytext=(5, -d_low), textcoords="offset pixels",
                    ha="center", va="center", fontsize=9, color="black")
        ax.annotate(str(hi), (t, 0), xycoords=tr, xytext=(5, -d_high), textcoords="offset pixels",
                    ha="center", va="center", fontsize=9, color=RISK_BLUE)

    fig_text(*p["letter_xy"], p["letter"], fontsize=13.5, ha="center", va="center")
    fig_text(*p["title_xy"], p["title"], fontsize=13.3, ha="center", va="center")
    if p["ylabel_xy"] is not None:
        fig_text(*p["ylabel_xy"], "Probability", fontsize=13, rotation=90, ha="center", va="center")


def gepia_panel(p):
    ax = box_axes(*p["box"])
    dots = (0, (1, 3.2))
    for pts in p["low_ci"]:
        step_line(ax, pts, p["yellow"], 1.3, dots)
    for pts in p["high_ci"]:
        step_line(ax, pts, GEP_BLUE, 1.3, dots)
    draw_curve(ax, p["low"], p["low_c"], p["yellow"], 2.2, 6.5)
    draw_curve(ax, p["high"], p["high_c"], GEP_BLUE, 2.2, 6.5)
    style_axes(ax, p["xlim"], (-0.04, 1.045), p["ticks"], p["tick_fs"], 10.5, 4.5)

    handles = [Line2D([], [], color=p["yellow"], lw=2.5), Line2D([], [], color=GEP_BLUE, lw=2.5)]
    ax.legend(handles, ["Low LY9 TPM", "High LY9 TPM"], loc="upper right", frameon=False, fontsize=10.5,
              handlelength=1.6, handletextpad=0.1, labelspacing=-0.15, borderaxespad=0.2, borderpad=0.35)
    for txt, (dx, dy) in zip(p["stats"], [(-5, -48), (-11, -63), (-17, -77)]):
        ax.annotate(txt, (1, 1), xycoords="axes fraction", xytext=(dx, dy), textcoords="offset pixels",
                    ha="right", va="center", fontsize=10.3, color=INK)
    ax.annotate("Months", (0.5, 0), xycoords="axes fraction", xytext=(0, -36), textcoords="offset pixels",
                ha="center", va="center", fontsize=10.5, color=INK)

    fig_text(*p["letter_xy"], p["letter"], fontsize=13.5, ha="center", va="center")
    fig_text(*p["title_xy"], p["title"], fontsize=13.3, ha="center", va="center")
    if p["ylabel_xy"] is not None:
        fig_text(*p["ylabel_xy"], "Percent survival", fontsize=11, rotation=90, ha="center", va="center")


for panel in KM_PANELS:
    km_panel(panel)
for panel in GEP_PANELS:
    gepia_panel(panel)

fig.savefig("out.png", dpi=100, facecolor="white")
